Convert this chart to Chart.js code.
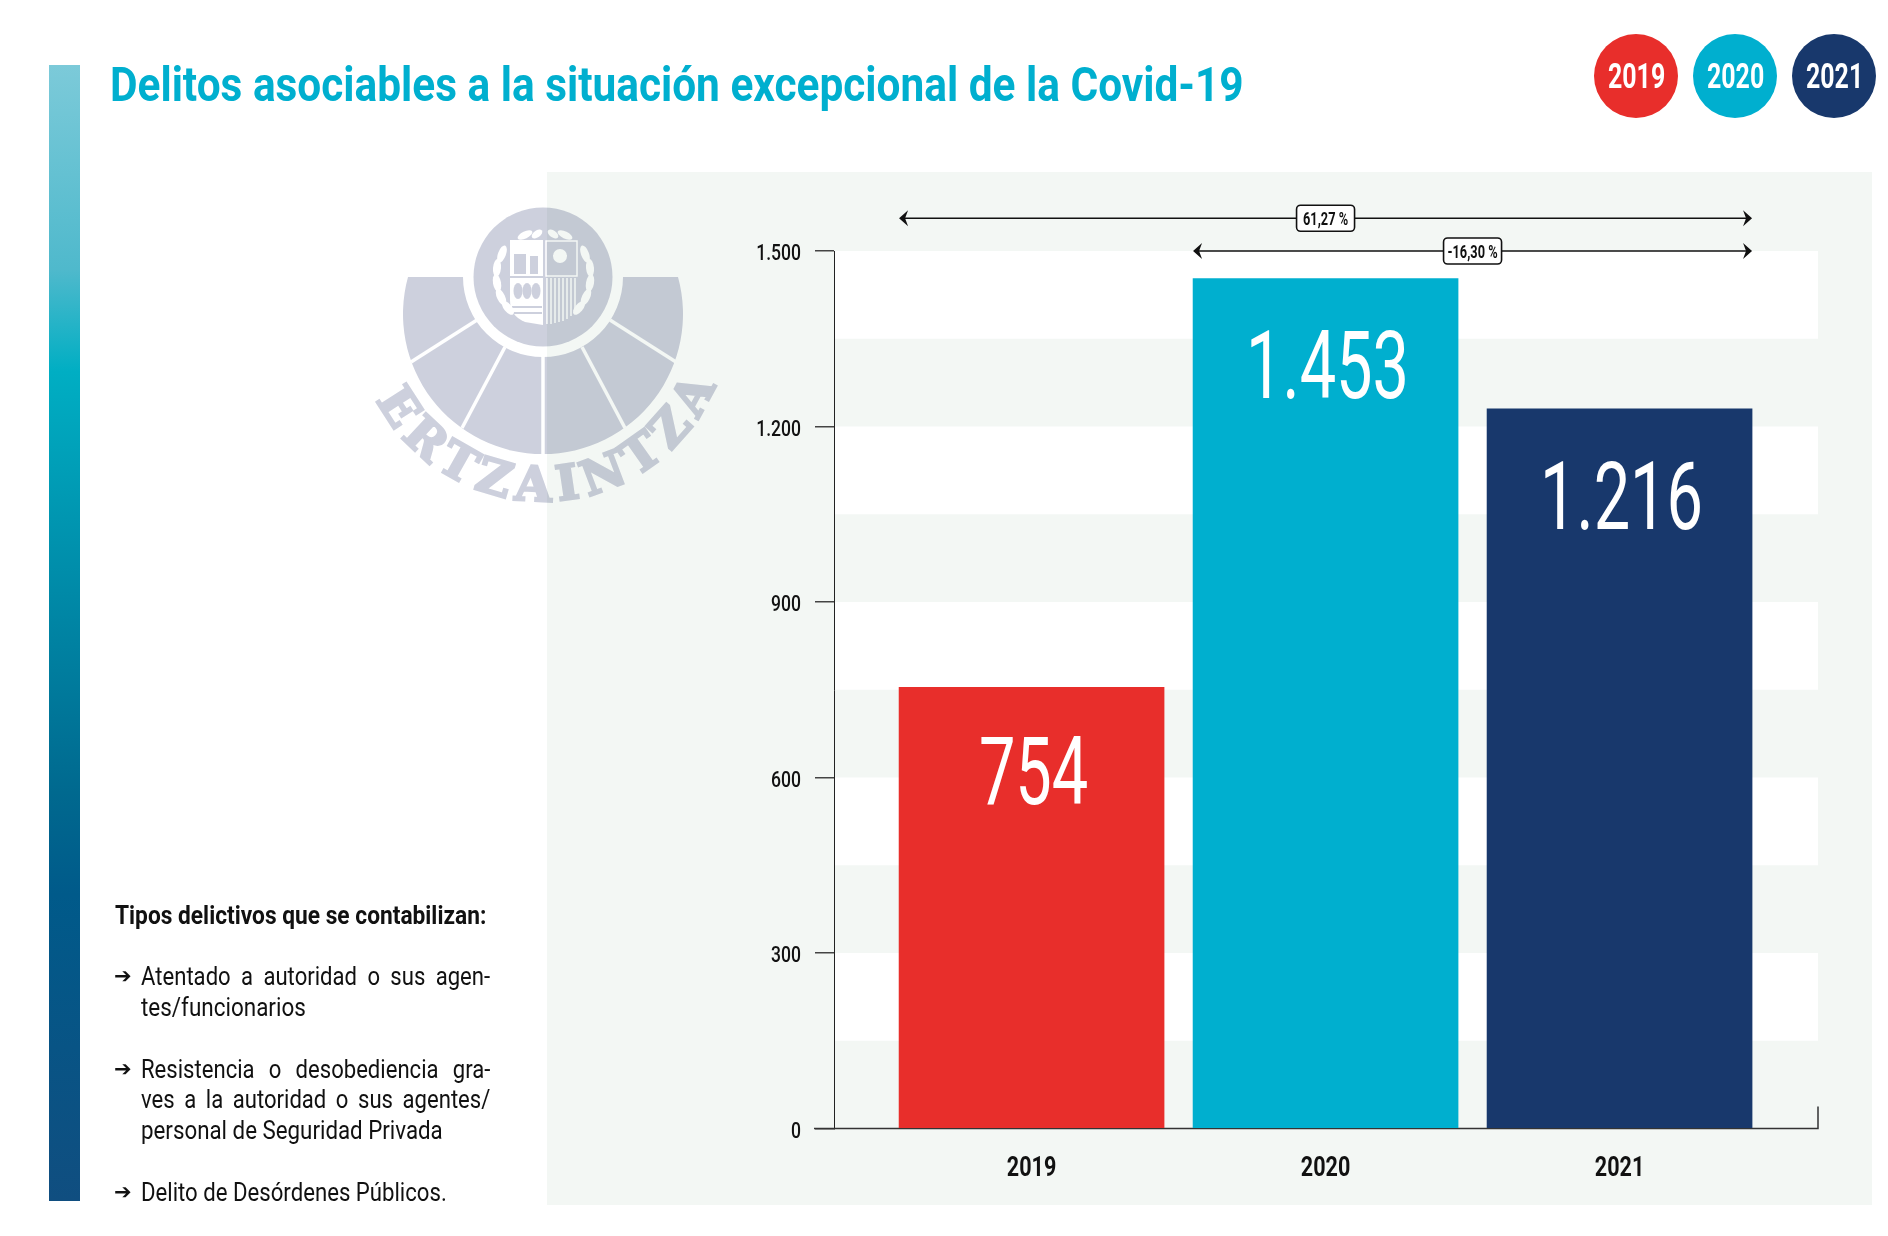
<!DOCTYPE html>
<html lang="es">
<head>
<meta charset="utf-8">
<title>Delitos asociables a la situación excepcional de la Covid-19</title>
<script src="https://cdn.jsdelivr.net/npm/chart.js@4"></script>
<style>
    html, body { margin: 0; padding: 0; background: #fff; overflow: hidden; }
    #page { position: relative; width: 1888px; height: 1236px; overflow: hidden; }
    #page > * { position: absolute; }
    #stripe { left: 49px; top: 65px; width: 31px; height: 1136px;
        background: linear-gradient(#7ccad9 0%, #4fb9cc 18%, #00aec3 27%, #00698f 64%, #005a8a 73%, #104e80 100%); }
    #panel { left: 547px; top: 172px; width: 1325px; height: 1033px; background: #f3f7f4; }
    #logo { left: 0; top: 0; mix-blend-mode: multiply; }
    #chart { left: 0; top: 0; }
    .txt { white-space: pre; line-height: 1; transform-origin: left center;
        font-family: Roboto, sans-serif; color: #111; }
    .badge { width: 84px; height: 84px; border-radius: 50%; top: 34px; }
</style>
</head>
<body>
<div id="page">
    <div id="stripe"></div>
    <div id="panel"></div>
    <svg id="logo" width="1888" height="1236" viewBox="0 0 1888 1236">
        <defs>
            <mask id="cuts" maskUnits="userSpaceOnUse" x="0" y="0" width="1888" height="1236">
                <rect width="1888" height="1236" fill="#fff"/>
                <g stroke="#000" stroke-width="3.5">
                    <line x1="543" y1="353" x2="543" y2="456"/>
                    <line x1="505" y1="347" x2="462" y2="428"/>
                    <line x1="582" y1="347" x2="625" y2="428"/>
                    <line x1="477" y1="320" x2="411" y2="362"/>
                    <line x1="610" y1="320" x2="676" y2="362"/>
                </g>
                <rect x="510" y="240" width="33" height="36" fill="#000"/>
                <g fill="#fff">
                    <rect x="514" y="254" width="12" height="20"/>
                    <rect x="530" y="256" width="8" height="18"/>
                </g>
                <rect x="546" y="241" width="31" height="35" fill="none" stroke="#000" stroke-width="1.5"/>
                <circle cx="560" cy="256" r="7" fill="#000"/>
                <path d="M510 278 H543 V325 L525 322 Q510 316 510 300 Z" fill="#000"/>
                <g fill="#fff">
                    <ellipse cx="518" cy="291" rx="4.5" ry="8"/>
                    <ellipse cx="527" cy="291" rx="4.5" ry="8"/>
                    <ellipse cx="536" cy="291" rx="4.5" ry="8"/>
                    <rect x="512" y="306" width="30" height="2"/>
                    <rect x="512" y="312" width="30" height="2"/>
                </g>
                <g stroke="#000" stroke-width="1.5">
                    <line x1="547" y1="278" x2="547" y2="324"/>
                    <line x1="551" y1="278" x2="551" y2="324"/>
                    <line x1="555" y1="278" x2="555" y2="323"/>
                    <line x1="559" y1="278" x2="559" y2="322"/>
                    <line x1="563" y1="278" x2="563" y2="321"/>
                    <line x1="567" y1="278" x2="567" y2="319"/>
                    <line x1="571" y1="278" x2="571" y2="316"/>
                    <line x1="575" y1="278" x2="575" y2="312"/>
                </g>
                <g fill="#000">
                    <ellipse cx="502" cy="254" rx="4" ry="9" transform="rotate(20 502 254)"/>
                    <ellipse cx="497" cy="268" rx="4" ry="9" transform="rotate(5 497 268)"/>
                    <ellipse cx="497" cy="283" rx="4" ry="9" transform="rotate(-10 497 283)"/>
                    <ellipse cx="501" cy="297" rx="4" ry="9" transform="rotate(-25 501 297)"/>
                    <ellipse cx="508" cy="308" rx="4" ry="8" transform="rotate(-40 508 308)"/>
                    <ellipse cx="585" cy="254" rx="4" ry="9" transform="rotate(-20 585 254)"/>
                    <ellipse cx="590" cy="268" rx="4" ry="9" transform="rotate(-5 590 268)"/>
                    <ellipse cx="590" cy="283" rx="4" ry="9" transform="rotate(10 590 283)"/>
                    <ellipse cx="586" cy="297" rx="4" ry="9" transform="rotate(25 586 297)"/>
                    <ellipse cx="579" cy="308" rx="4" ry="8" transform="rotate(40 579 308)"/>
                    <ellipse cx="525" cy="235" rx="8" ry="3.5" transform="rotate(-25 525 235)"/>
                    <ellipse cx="537" cy="234" rx="6" ry="3.5" transform="rotate(-35 537 234)"/>
                    <ellipse cx="553" cy="234" rx="6" ry="3.5" transform="rotate(35 553 234)"/>
                    <ellipse cx="565" cy="235" rx="8" ry="3.5" transform="rotate(25 565 235)"/>
                </g>
            </mask>
            <path id="logoArc" d="M376.400 399.900 A187 187 0 0 0 715.100 386.100"/>
        </defs>
        <g fill="#cdd0dd" mask="url(#cuts)">
            <circle cx="543" cy="277" r="69.500"/>
            <path d="M408 277 A140 140 0 1 0 678 277 L623 277 A80 80 0 0 1 463 277 Z"/>
        </g>
        <text fill="#cdd0dd" stroke="#cdd0dd" stroke-width="2.5" font-family="DejaVu Serif" font-weight="bold" font-size="48">
            <textPath href="#logoArc" startOffset="0" textLength="424" lengthAdjust="spacing">ERTZAINTZA</textPath>
        </text>
    </svg>
    <canvas id="chart" width="1888" height="1236"></canvas>
</div>
<script>
// Data
const categories = ['2019', '2020', '2021'];
// the 2021 bar is printed a little taller than its own label says
const barValues = [754, 1453, 1230];
const barLabels = ['754', '1.453', '1.216'];
const barColors = ['#e82e2b', '#00afcf', '#18386c'];
const yTicks = [0, 300, 600, 900, 1200, 1500];
const yTickLabels = ['0', '300', '600', '900', '1.200', '1.500'];
const changeLabels = ['61,27 %', '-16,30 %'];
const listHeading = 'Tipos delictivos que se contabilizan:';

const FONT = 'Roboto, sans-serif';
const page = document.getElementById('page');

// Puts a line of text with its baseline at y, squeezed to a width or justified
function addText(str, x, y, size, opts = {}) {
    const el = document.createElement('div');
    el.className = 'txt';
    el.textContent = str;
    el.style.left = x + 'px';
    el.style.top = (y - 0.8415 * size) + 'px';
    el.style.fontSize = size + 'px';
    if (opts.bold) el.style.fontWeight = 'bold';
    if (opts.color) el.style.color = opts.color;
    if (opts.family) el.style.fontFamily = opts.family;
    page.appendChild(el);
    if (opts.justify) {
        // word gaps are stretched before the squeeze is applied
        const gaps = str.split(' ').length - 1;
        el.style.wordSpacing = (opts.justify / opts.squeeze - el.offsetWidth) / gaps + 'px';
        el.style.transform = 'scaleX(' + opts.squeeze + ')';
    } else if (opts.width) {
        el.style.transform = 'scaleX(' + opts.width / el.offsetWidth + ')';
    }
    return el;
}

addText('Delitos asociables a la situación excepcional de la Covid-19', 110, 101, 49,
    { bold: true, color: '#00afcf', width: 1134 });

// Year badges
[1594, 1693, 1792].forEach((left, i) => {
    const b = document.createElement('div');
    b.className = 'badge';
    b.style.left = left + 'px';
    b.style.background = barColors[i];
    page.appendChild(b);
    addText(categories[i], left + 14, 88, 35, { bold: true, color: '#fff', width: 57 });
});

// Left column
addText(listHeading, 115, 924, 25, { bold: true, width: 371 });
const listLines = [
    ['Atentado a autoridad o sus agen-', 985, true, null],
    ['tes/funcionarios', 1015.5, false, 165],
    ['Resistencia o desobediencia gra-', 1078, true, null],
    ['ves a la autoridad o sus agentes/', 1108, false, null],
    ['personal de Seguridad Privada', 1138.5, false, 302],
    ['Delito de Desórdenes Públicos.', 1201, true, 306]
];
listLines.forEach(([line, y, arrow, width]) => {
    if (arrow) addText('\u2794', 114, y - 1, 21, { family: 'DejaVu Sans', bold: true });
    addText(line, 141, y, 26, width ? { width } : { justify: 349, squeeze: 0.85 });
});

// Draws text squeezed sideways, the reference font is a condensed one
function squeezed(ctx, str, x, y, font, sx, align, color) {
    ctx.save();
    ctx.translate(x, y);
    ctx.scale(sx, 1);
    ctx.font = font;
    ctx.fillStyle = color;
    ctx.textAlign = align;
    ctx.textBaseline = 'alphabetic';
    ctx.fillText(str, 0, 0);
    ctx.restore();
}

// Zebra bands go under the axes
const bandsPlugin = {
    id: 'bands',
    beforeDraw(chart) {
        const { ctx, chartArea, scales: { y } } = chart;
        ctx.save();
        ctx.fillStyle = '#fff';
        yTicks.slice(1).forEach(v => {
            const top = y.getPixelForValue(v);
            ctx.fillRect(chartArea.left, top, chartArea.right - chartArea.left, y.getPixelForValue(v - 150) - top);
        });
        ctx.restore();
    },
    beforeDatasetsDraw(chart) {
        const { ctx, chartArea } = chart;
        ctx.save();
        ctx.strokeStyle = '#333';
        ctx.lineWidth = 1.5;
        ctx.beginPath();
        ctx.moveTo(chartArea.left - 20, chartArea.bottom);
        ctx.lineTo(chartArea.right, chartArea.bottom);
        ctx.lineTo(chartArea.right, chartArea.bottom - 22);
        ctx.stroke();
        ctx.restore();
    }
};

function arrowHead(ctx, x, y, dir) {
    ctx.beginPath();
    ctx.moveTo(x, y);
    ctx.lineTo(x - dir * 9, y - 8);
    ctx.lineTo(x - dir * 6, y);
    ctx.lineTo(x - dir * 9, y + 8);
    ctx.closePath();
    ctx.fill();
}

function changeArrow(ctx, x1, x2, y, boxX, label) {
    ctx.strokeStyle = '#111';
    ctx.fillStyle = '#111';
    ctx.lineWidth = 1.6;
    ctx.beginPath();
    ctx.moveTo(x1 + 4, y);
    ctx.lineTo(x2 - 4, y);
    ctx.stroke();
    arrowHead(ctx, x1, y, -1);
    arrowHead(ctx, x2, y, 1);
    ctx.beginPath();
    ctx.roundRect(boxX - 29, y - 13, 58, 26, 4);
    ctx.fillStyle = '#fff';
    ctx.fill();
    ctx.stroke();
    squeezed(ctx, label, boxX, y + 6.5, 'bold 18px ' + FONT, 0.71, 'center', '#111');
}

// Axis labels, big value labels and the two change arrows
const overlayPlugin = {
    id: 'overlay',
    afterDatasetsDraw(chart) {
        const { ctx, chartArea, scales: { x, y } } = chart;
        const bars = chart.getDatasetMeta(0).data;
        y.ticks.forEach((t, i) => {
            squeezed(ctx, yTickLabels[i], chartArea.left - 33, y.getPixelForTick(i) + 9, '500 22.5px ' + FONT, 0.78, 'right', '#111');
        });
        x.ticks.forEach((t, i) => {
            squeezed(ctx, categories[i], x.getPixelForTick(i), chartArea.bottom + 47, 'bold 28px ' + FONT, 0.77, 'center', '#111');
        });
        bars.forEach((bar, i) => {
            // the shortest bar carries its label slightly higher
            squeezed(ctx, barLabels[i], bar.x + 2, bar.y + (i === 0 ? 117 : 120), '94px ' + FONT, 0.69, 'center', '#fff');
        });
        const half = bars[0].width / 2;
        changeArrow(ctx, bars[0].x - half, bars[2].x + half, y.getPixelForValue(1556), bars[1].x, changeLabels[0]);
        changeArrow(ctx, bars[1].x - half, bars[2].x + half, y.getPixelForValue(1500), (bars[1].x + bars[2].x) / 2, changeLabels[1]);
    }
};

new Chart(document.getElementById('chart'), {
    type: 'bar',
    data: {
        datasets: [{
            data: categories.map((c, i) => ({ x: Number(c), y: barValues[i] })),
            backgroundColor: barColors,
            barThickness: 265
        }]
    },
    options: {
        responsive: false,
        devicePixelRatio: 1,
        animation: false,
        layout: { padding: { left: 0, right: 70, top: 251, bottom: 47.5 } },
        plugins: { legend: { display: false }, tooltip: { enabled: false } },
        scales: {
            x: {
                type: 'linear',
                offset: false,
                min: 2018.328,
                max: 2021.675,
                afterBuildTicks: axis => { axis.ticks = categories.map(c => ({ value: Number(c) })); },
                afterFit: axis => { axis.height = 60; },
                grid: { display: false },
                border: { display: false },
                ticks: { display: false }
            },
            y: {
                min: 0,
                max: 1500,
                afterBuildTicks: axis => { axis.ticks = yTicks.map(v => ({ value: v })); },
                afterFit: axis => { axis.width = 834; },
                grid: { drawOnChartArea: false, color: '#444', tickLength: 19, lineWidth: 1.5 },
                border: { color: '#222', width: 1 },
                ticks: { display: false }
            }
        }
    },
    plugins: [bandsPlugin, overlayPlugin]
});
</script>
</body>
</html>
